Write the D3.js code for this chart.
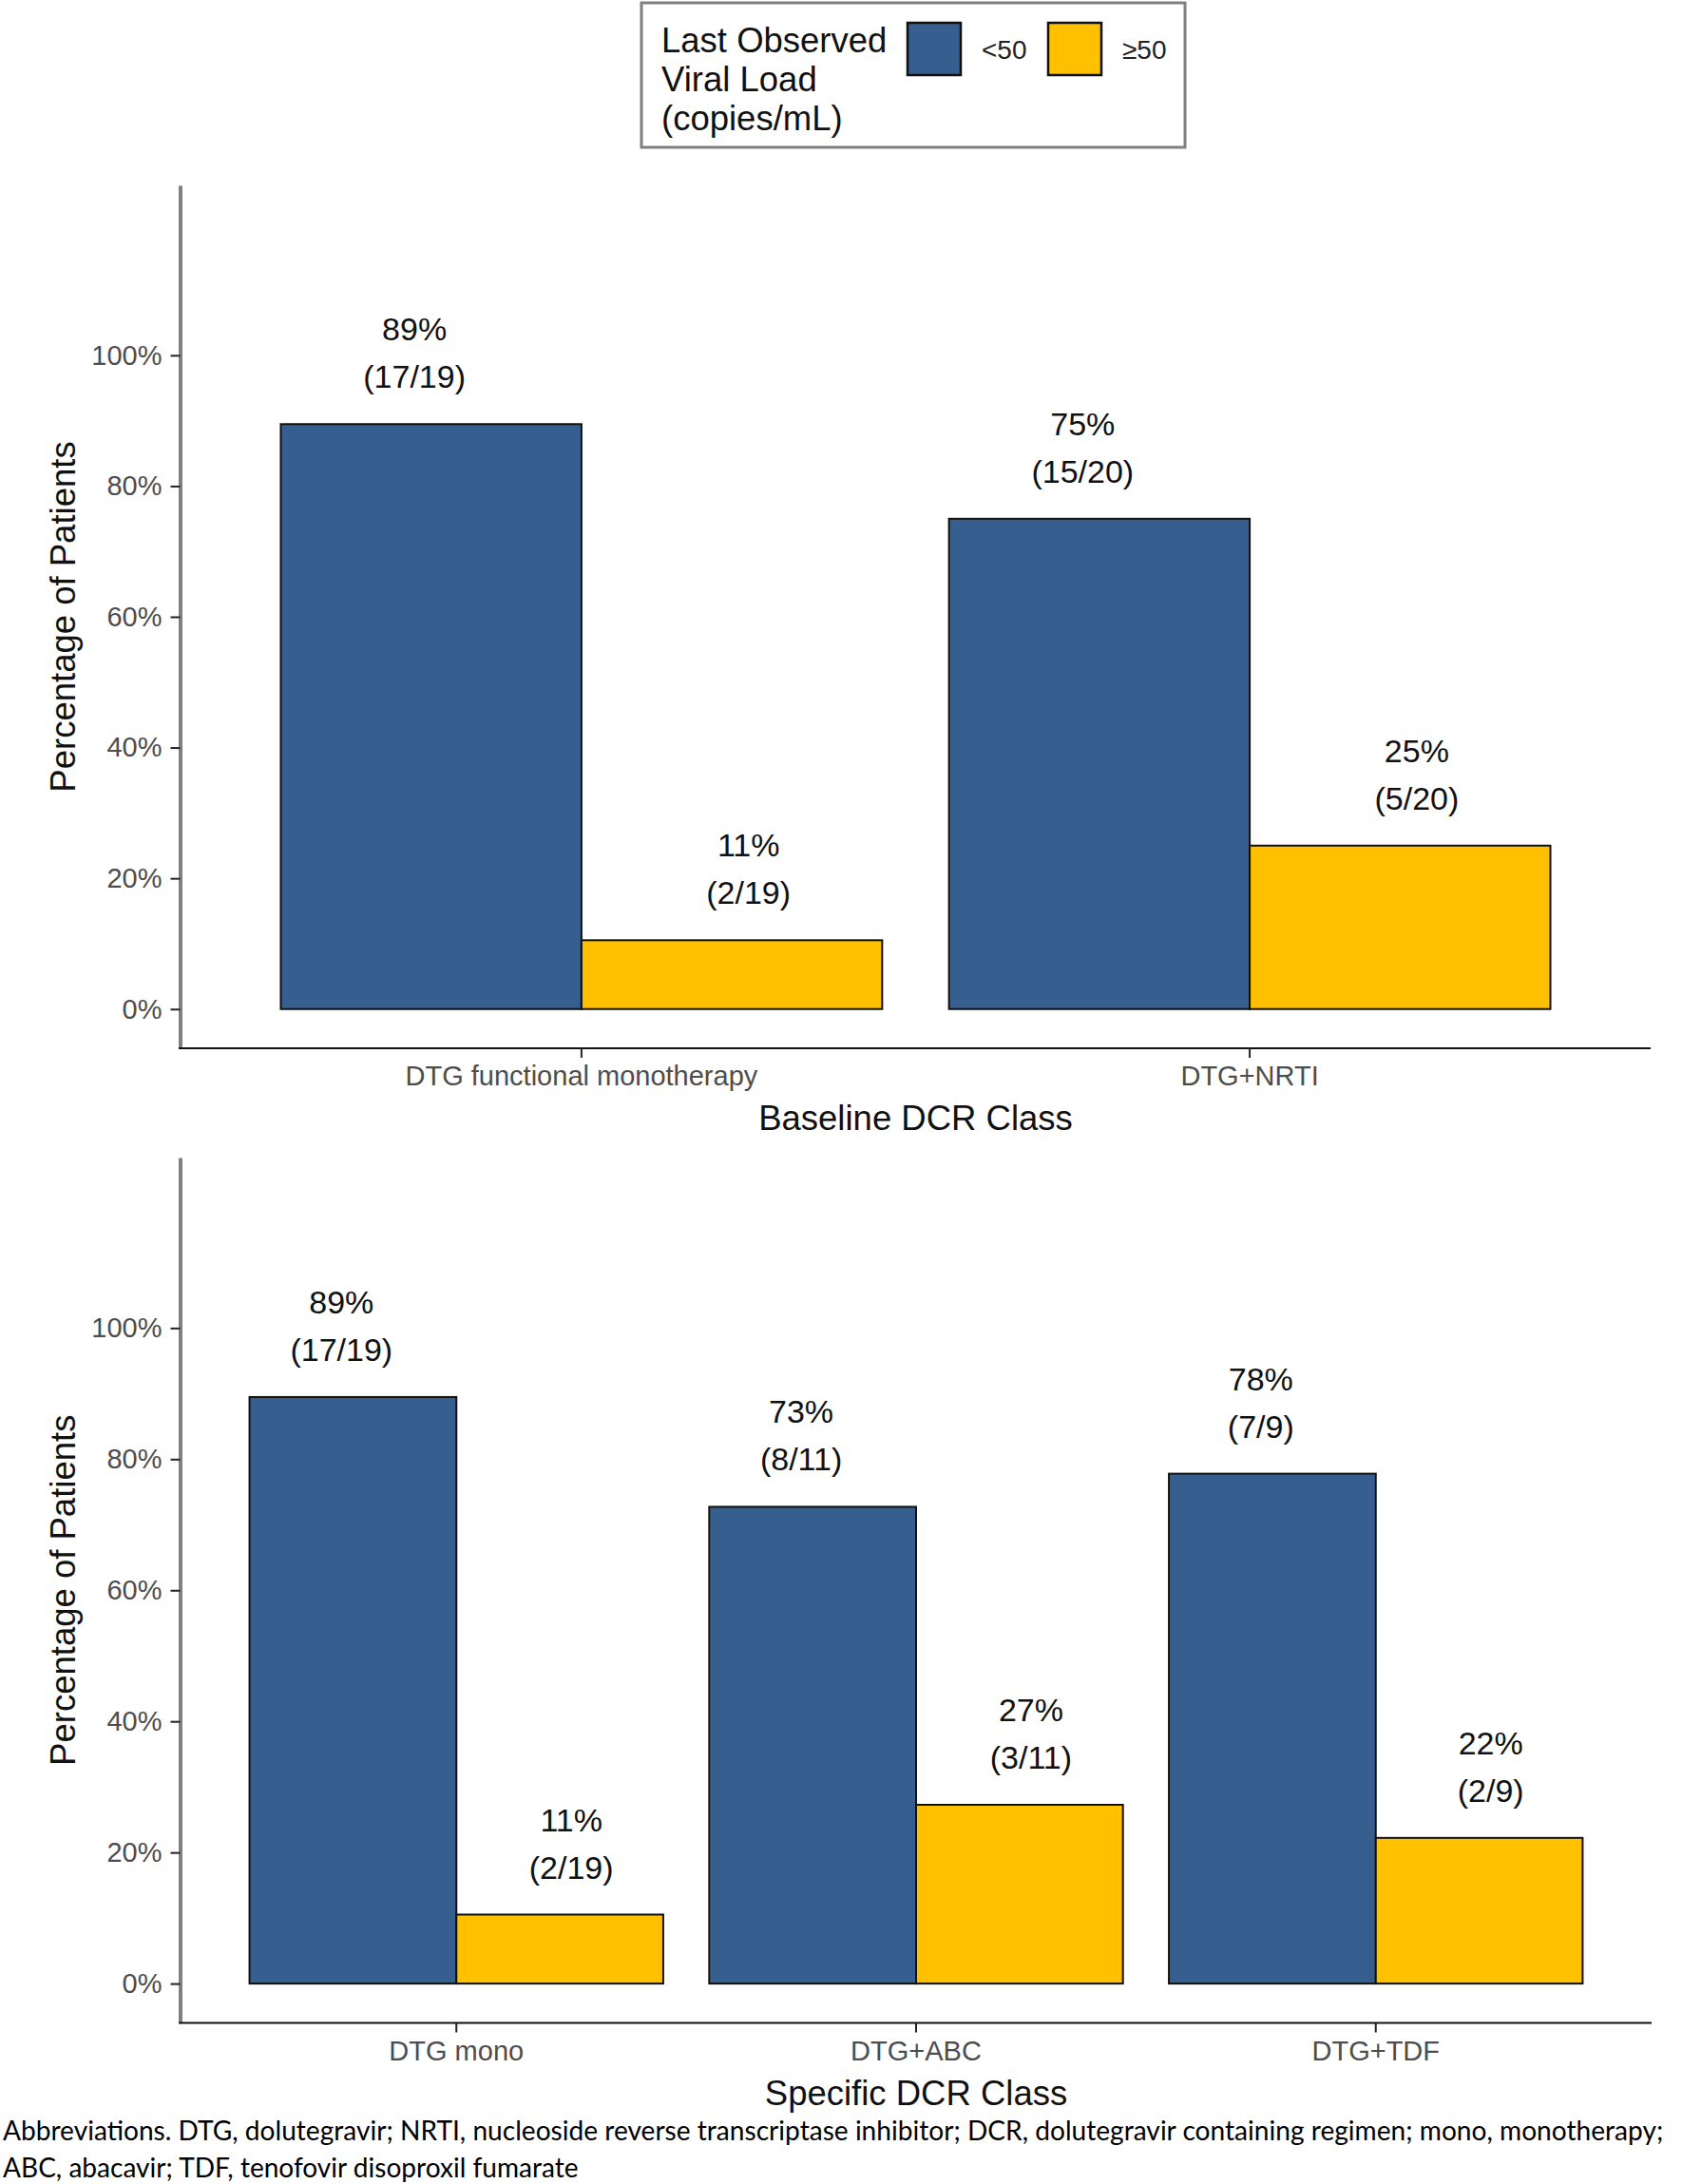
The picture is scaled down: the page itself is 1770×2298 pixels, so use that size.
<!DOCTYPE html>
<html><head><meta charset="utf-8">
<script src="https://cdn.jsdelivr.net/npm/d3@7"></script>
<style>body{margin:0;background:#fff} svg{display:block}</style>
</head><body>
<script>
// ---------------- data ----------------
const vlGroups = ["<50", "≥50"];
const vlColors = ["#365E8E", "#FFC000"];
const legendTitleLines = ["Last Observed", "Viral Load", "(copies/mL)"];
const yTickValues = [0, 0.2, 0.4, 0.6, 0.8, 1.0];
const yTitle = "Percentage of Patients";

const topCategories = ["DTG functional monotherapy", "DTG+NRTI"];
const topCountBelow50 = [17, 15];
const topCountAtLeast50 = [2, 5];
const topTotals = [19, 20];
const topXTitle = "Baseline DCR Class";

const bottomCategories = ["DTG mono", "DTG+ABC", "DTG+TDF"];
const bottomCountBelow50 = [17, 8, 7];
const bottomCountAtLeast50 = [2, 3, 2];
const bottomTotals = [19, 11, 9];
const bottomXTitle = "Specific DCR Class";

const footnoteLines = [
  "Abbreviations. DTG, dolutegravir; NRTI, nucleoside reverse transcriptase inhibitor; DCR, dolutegravir containing regimen; mono, monotherapy;",
  "ABC, abacavir; TDF, tenofovir disoproxil fumarate"
];

// ---------------- drawing ----------------
const W = 1770, H = 2298;
const FONT = "'Liberation Sans', Arial, sans-serif";
const svg = d3.select("body").append("svg").attr("width", W).attr("height", H)
  .style("font-family", FONT);
svg.append("rect").attr("width", W).attr("height", H).attr("fill", "#fff");

const color = d3.scaleOrdinal().domain(vlGroups).range(vlColors);
const pct = d3.format(".0%");

function drawPanel(cfg) {
  const rows = cfg.categories.map((c, i) => ({
    cat: c,
    vals: [
      {g: vlGroups[0], n: cfg.low[i], d: cfg.totals[i]},
      {g: vlGroups[1], n: cfg.high[i], d: cfg.totals[i]}
    ]
  }));
  const x = d3.scaleBand().domain(cfg.categories).range([cfg.left, cfg.right])
    .paddingInner(0.1).paddingOuter(0.15);
  const xSub = d3.scaleBand().domain(vlGroups).range([0, x.bandwidth()]);
  const xLab = d3.scaleBand().domain(vlGroups).range([-x.step() / 2, x.step() / 2]);
  const y = d3.scaleLinear().domain([-0.06, 1.26]).range([cfg.bottom, cfg.top]);

  const g = svg.append("g");

  // bars
  const grp = g.selectAll("g.cat").data(rows).join("g")
    .attr("transform", d => `translate(${x(d.cat)},0)`);
  grp.selectAll("rect").data(d => d.vals).join("rect")
    .attr("x", d => xSub(d.g))
    .attr("width", xSub.bandwidth())
    .attr("y", d => y(d.n / d.d))
    .attr("height", d => y(0) - y(d.n / d.d))
    .attr("fill", d => color(d.g))
    .attr("stroke", "#111").attr("stroke-width", 2);

  // labels
  const lab = g.selectAll("g.lab").data(rows).join("g")
    .attr("transform", d => `translate(${x(d.cat) + x.bandwidth() / 2},0)`);
  const lt = lab.selectAll("text").data(d => d.vals).join("text")
    .attr("x", d => xLab(d.g) + xLab.bandwidth() / 2)
    .attr("text-anchor", "middle")
    .attr("font-size", 34).attr("fill", "#111");
  lt.append("tspan").attr("x", d => xLab(d.g) + xLab.bandwidth() / 2)
    .attr("y", d => y(d.n / d.d) - 88).text(d => pct(d.n / d.d));
  lt.append("tspan").attr("x", d => xLab(d.g) + xLab.bandwidth() / 2)
    .attr("y", d => y(d.n / d.d) - 38).text(d => `(${d.n}/${d.d})`);

  // y axis
  const ya = g.append("g").attr("transform", `translate(${cfg.left - 0.5},0)`)
    .call(d3.axisLeft(y).tickValues(yTickValues).tickFormat(pct)
      .tickSize(10).tickSizeOuter(0).tickPadding(9));
  ya.select(".domain").attr("stroke", "#808080").attr("stroke-width", 4);
  ya.selectAll(".tick line").attr("stroke", "#222").attr("stroke-width", 2);
  ya.selectAll(".tick text").attr("font-size", 29).attr("fill", "#4D4D4D")
    .attr("font-family", FONT);

  // x axis
  const xa = g.append("g").attr("transform", `translate(0,${cfg.bottom})`)
    .call(d3.axisBottom(x).tickSize(10).tickSizeOuter(0).tickPadding(8.5));
  xa.select(".domain").attr("stroke", "#111").attr("stroke-width", 2)
    .attr("d", `M${cfg.left - 2},0H${cfg.right}`);
  xa.selectAll(".tick line").attr("stroke", "#222").attr("stroke-width", 2);
  xa.selectAll(".tick text").attr("font-size", 29).attr("fill", "#4D4D4D")
    .attr("font-family", FONT);

  // titles
  g.append("text").attr("x", (cfg.left + cfg.right) / 2).attr("y", cfg.bottom + 86)
    .attr("text-anchor", "middle").attr("font-size", 36.5).attr("fill", "#111")
    .text(cfg.xTitle);
  g.append("text")
    .attr("transform", `translate(79,${(cfg.top + cfg.bottom) / 2}) rotate(-90)`)
    .attr("text-anchor", "middle").attr("font-size", 36.5).attr("fill", "#111")
    .text(yTitle);
}

drawPanel({categories: topCategories, low: topCountBelow50, high: topCountAtLeast50,
  totals: topTotals, xTitle: topXTitle, left: 190, right: 1737, top: 195, bottom: 1103});
drawPanel({categories: bottomCategories, low: bottomCountBelow50, high: bottomCountAtLeast50,
  totals: bottomTotals, xTitle: bottomXTitle, left: 190, right: 1738, top: 1218, bottom: 2128.5});

// legend
const lg = svg.append("g");
lg.append("rect").attr("x", 675).attr("y", 3).attr("width", 572).attr("height", 152)
  .attr("fill", "#fff").attr("stroke", "#808080").attr("stroke-width", 3);
lg.selectAll("text.t").data(legendTitleLines).join("text")
  .attr("x", 696).attr("y", (d, i) => 55 + i * 41)
  .attr("font-size", 36.5).attr("fill", "#111").text(d => d);
const keyX = d3.scaleOrdinal().domain(vlGroups).range([955, 1103]);
lg.selectAll("rect.k").data(vlGroups).join("rect")
  .attr("x", d => keyX(d)).attr("y", 24).attr("width", 56).attr("height", 55)
  .attr("fill", d => color(d)).attr("stroke", "#111").attr("stroke-width", 2.5);
lg.selectAll("text.k").data(vlGroups).join("text")
  .attr("x", d => keyX(d) + 78).attr("y", 62)
  .attr("font-size", 28).attr("fill", "#222").text(d => d);

// footnote (horizontally condensed to mimic the narrow original face)
const fnWidths = [1748, 606];
svg.selectAll("text.fn").data(footnoteLines).join("text")
  .attr("font-family", "Lato, 'Open Sans', sans-serif")
  .attr("font-size", 28.5).attr("fill", "#000")
  .text(d => d)
  .each(function(d, i) {
    const w = this.getComputedTextLength();
    const s = fnWidths[i] / w;
    d3.select(this).attr("transform", `translate(3,${2252 + i * 39}) scale(${s},1)`);
  });
</script>
</body></html>
